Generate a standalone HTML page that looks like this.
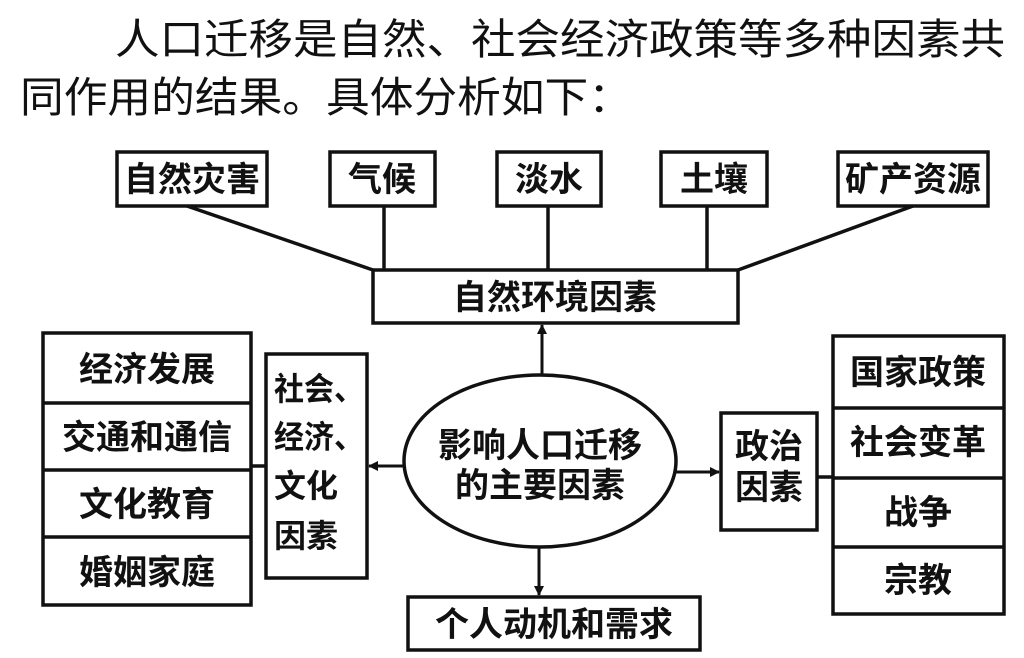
<!DOCTYPE html>
<html><head><meta charset="utf-8"><style>
html,body{margin:0;padding:0;background:#fff;}
svg{display:block;}
text{font-family:"Liberation Sans","Noto Sans CJK SC",sans-serif;fill:#111;font-weight:bold;}
text.t{font-weight:normal;}
</style></head><body>
<svg width="1024" height="658" viewBox="0 0 1024 658" xmlns="http://www.w3.org/2000/svg">
<defs><marker id="a" markerWidth="10" markerHeight="10" refX="9" refY="5" orient="auto" markerUnits="userSpaceOnUse"><path d="M0,0 L10,5 L0,10 Z" fill="#111"/></marker></defs>
<text class="t" x="115" y="54" font-size="42" textLength="890" lengthAdjust="spacingAndGlyphs">人口迁移是自然、社会经济政策等多种因素共</text>
<text class="t" x="20" y="112" font-size="42" textLength="612" lengthAdjust="spacingAndGlyphs">同作用的结果。具体分析如下：</text>
<g fill="none" stroke="#111" stroke-width="3.5">
<rect x="117" y="152" width="150" height="54"/>
<rect x="330" y="152" width="105" height="54"/>
<rect x="497" y="152" width="104" height="54"/>
<rect x="661" y="152" width="106" height="54"/>
<rect x="838" y="152" width="150" height="54"/>
<rect x="373" y="270" width="365" height="53"/>
<line x1="187" y1="206" x2="373" y2="270"/>
<line x1="384" y1="206" x2="384" y2="270"/>
<line x1="548" y1="206" x2="548" y2="270"/>
<line x1="707" y1="206" x2="707" y2="270"/>
<line x1="913" y1="206" x2="738" y2="270"/>
<rect x="43" y="333" width="208" height="272"/>
<line x1="43" y1="403" x2="251" y2="403"/>
<line x1="43" y1="470" x2="251" y2="470"/>
<line x1="43" y1="537" x2="251" y2="537"/>
<rect x="266" y="354" width="101" height="224"/>
<line x1="251" y1="466" x2="266" y2="466"/>
<ellipse cx="540" cy="461" rx="136" ry="86"/>
<rect x="721" y="413" width="96" height="117"/>
<rect x="833" y="336" width="171" height="278"/>
<line x1="833" y1="408" x2="1004" y2="408"/>
<line x1="833" y1="478" x2="1004" y2="478"/>
<line x1="833" y1="547" x2="1004" y2="547"/>
<line x1="817" y1="477" x2="833" y2="477"/>
<rect x="408" y="597" width="292" height="53"/>
</g>
<g stroke="#111" stroke-width="3">
<line x1="542" y1="375" x2="542" y2="325" marker-end="url(#a)"/>
<line x1="539" y1="547" x2="539" y2="595" marker-end="url(#a)"/>
<line x1="404" y1="466" x2="369" y2="466" marker-end="url(#a)"/>
<line x1="676" y1="472" x2="719" y2="472" marker-end="url(#a)"/>
</g>
<g font-size="34" text-anchor="middle">
<text x="192" y="191">自然灾害</text>
<text x="382" y="191">气候</text>
<text x="549" y="191">淡水</text>
<text x="714" y="191">土壤</text>
<text x="913" y="191">矿产资源</text>
<text x="555" y="309">自然环境因素</text>
<text x="147" y="381">经济发展</text>
<text x="147" y="449">交通和通信</text>
<text x="147" y="516">文化教育</text>
<text x="147" y="584">婚姻家庭</text>
<text x="540" y="457">影响人口迁移</text>
<text x="540" y="497">的主要因素</text>
<text x="769" y="458">政治</text>
<text x="769" y="499">因素</text>
<text x="918" y="384">国家政策</text>
<text x="918" y="454">社会变革</text>
<text x="918" y="524">战争</text>
<text x="918" y="592">宗教</text>
<text x="554" y="636">个人动机和需求</text>
</g>
<g font-size="32">
<text x="274" y="400" textLength="90" lengthAdjust="spacingAndGlyphs">社会、</text>
<text x="274" y="448" textLength="90" lengthAdjust="spacingAndGlyphs">经济、</text>
<text x="274" y="497">文化</text>
<text x="274" y="547">因素</text>
</g>
</svg>
</body></html>
